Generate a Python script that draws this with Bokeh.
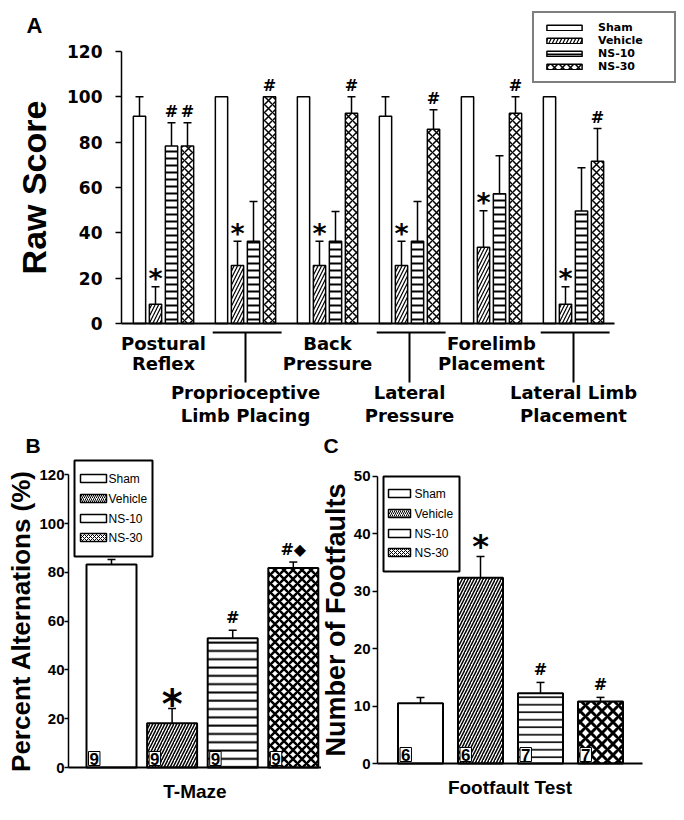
import numpy as np
from bokeh.plotting import figure
from bokeh.layouts import column, row
from bokeh.models import (ColumnDataSource, Whisker, TeeHead, Legend, LegendItem,
                          FixedTicker, Range1d)
from bokeh.core.properties import value
from bokeh.embed import file_html
from bokeh.resources import INLINE

# ---------------------------------------------------------------- data
groups = ["Sham", "Vehicle", "NS-10", "NS-30"]

a_tests = ["Postural\nReflex", "Proprioceptive\nLimb Placing", "Back\nPressure",
           "Lateral\nPressure", "Forelimb\nPlacement", "Lateral Limb\nPlacement"]
a_sham = [91.4, 100, 100, 91.4, 100, 100]
a_sham_err = [8.6, 0, 0, 8.6, 0, 0]
a_vehicle = [8.5, 25.6, 25.6, 25.6, 33.6, 8.5]
a_vehicle_err = [7.7, 10.7, 10.7, 10.7, 16.1, 7.7]
a_ns10 = [78.3, 36.3, 36.3, 36.3, 57.2, 49.6]
a_ns10_err = [10.3, 17.5, 13.1, 17.5, 16.8, 19.1]
a_ns30 = [78.3, 100, 92.8, 85.7, 92.8, 71.6]
a_ns30_err = [10.3, 0, 7.2, 8.6, 7.2, 14.4]
a_sham_sig = ["", "", "", "", "", ""]
a_vehicle_sig = ["*", "*", "*", "*", "*", "*"]
a_ns10_sig = ["#", "", "", "", "", ""]
a_ns30_sig = ["#", "#", "#", "#", "#", "#"]
a_ticks = [0, 20, 40, 60, 80, 100, 120]

b_test = "T-Maze"
b_values = [83.2, 18.1, 53.0, 81.8]
b_err = [2.0, 6.1, 3.2, 2.4]
b_n = ["9", "9", "9", "9"]
b_sig = ["", "*", "#", "#\u25c6"]
b_ticks = [0, 20, 40, 60, 80, 100, 120]

c_test = "Footfault Test"
c_values = [10.5, 32.3, 12.2, 10.8]
c_err = [1.0, 3.7, 1.9, 0.7]
c_n = ["6", "6", "7", "7"]
c_sig = ["", "*", "#", "#"]
c_ticks = [0, 10, 20, 30, 40, 50]

# ---------------------------------------------------------------- styles
SANS = "Liberation Sans"
WIDE = "DejaVu Sans"

A_HATCH = [dict(),
           dict(hatch_pattern="/", hatch_scale=7, hatch_weight=1.2),
           dict(hatch_pattern="-", hatch_scale=7, hatch_weight=2),
           dict(hatch_pattern="x", hatch_scale=8, hatch_weight=1.5)]
B_HATCH = [dict(),
           dict(hatch_pattern="/", hatch_scale=6, hatch_weight=1.5),
           dict(hatch_pattern="-", hatch_scale=8.3, hatch_weight=2),
           dict(hatch_pattern="x", hatch_scale=9, hatch_weight=2.5)]
C_HATCH = [dict(),
           dict(hatch_pattern="/", hatch_scale=6, hatch_weight=1.5),
           dict(hatch_pattern="-", hatch_scale=7.5, hatch_weight=1.6),
           dict(hatch_pattern="x", hatch_scale=11, hatch_weight=3)]
KEY_HATCH = [dict(),
             dict(hatch_pattern="/", hatch_scale=4, hatch_weight=1),
             dict(),
             dict(hatch_pattern="x", hatch_scale=4, hatch_weight=1)]


class Geo:
    """Maps page pixels to data units for a figure whose frame fills its canvas."""
    def __init__(self, left, top, w, h, x0px, xpitch, y0px, ppu):
        self.left, self.top, self.w, self.h = left, top, w, h
        self.x0px, self.xpitch, self.y0px, self.ppu = x0px, xpitch, y0px, ppu

    def x(self, px):
        return (px - self.x0px) / self.xpitch

    def y(self, py):
        return (self.y0px - py) / self.ppu

    def xr(self):
        return (self.x(self.left), self.x(self.left + self.w))

    def yr(self):
        return (self.y(self.top + self.h), self.y(self.top))


def base_fig(g, xaxis=True):
    p = figure(width=g.w, height=g.h, x_range=Range1d(*g.xr()), y_range=Range1d(*g.yr()),
               output_backend="svg", toolbar_location=None,
               x_axis_location="below" if xaxis else None,
               min_border_left=0, min_border_right=0, min_border_top=0,
               min_border_bottom=0)
    p.grid.visible = False
    p.outline_line_color = None
    p.background_fill_color = "white"
    p.border_fill_color = "white"
    return p


def style_yaxis(ax, loc, ticks, font, size, tick_out, standoff, label, lsize, lstandoff):
    ax.fixed_location = loc
    ax.bounds = (ticks[0], ticks[-1])
    ax.ticker = FixedTicker(ticks=ticks)
    ax.axis_line_width = 1.5
    ax.major_tick_in = 0
    ax.major_tick_out = tick_out
    ax.major_tick_line_width = 1.5
    ax.minor_tick_out = 0
    ax.minor_tick_in = 0
    ax.major_label_text_font = font
    ax.major_label_text_font_style = "bold"
    ax.major_label_text_font_size = size
    ax.major_label_text_color = "black"
    ax.major_label_standoff = standoff
    ax.axis_label = label
    ax.axis_label_text_font = SANS
    ax.axis_label_text_font_style = "bold"
    ax.axis_label_text_font_size = lsize
    ax.axis_label_text_color = "black"
    ax.axis_label_standoff = lstandoff


def letter(p, g, text, px, py_mid, size):
    p.text(x=[g.x(px)], y=[g.y(py_mid)], text=[text], text_font=value(SANS),
           text_font_style="bold", text_font_size=size, text_align="left",
           text_baseline="middle")


A_BOTTOM = 430

# ================================================================ panel A
ga = Geo(0, 0, 676, A_BOTTOM, 163, 82.0, 323, 272 / 120.0)
pa = base_fig(ga, xaxis=False)
a_axis_x = ga.x(121)
style_yaxis(pa.yaxis[0], a_axis_x, a_ticks, WIDE, "17px", 6, 13, "Raw Score", "34px", 11)

n_tests = len(a_tests)
xg = np.arange(n_tests)
a_series = [(a_sham, a_sham_err, a_sham_sig), (a_vehicle, a_vehicle_err, a_vehicle_sig),
            (a_ns10, a_ns10_err, a_ns10_sig), (a_ns30, a_ns30_err, a_ns30_sig)]
bar_pitch = 16 / ga.xpitch
bar_w = 12.3 / ga.xpitch
a_items = []
for k, (vals, errs, sig) in enumerate(a_series):
    x = xg + (k - 1.5) * bar_pitch
    top = np.array(vals, dtype=float)
    up = top + np.array(errs, dtype=float)
    src = ColumnDataSource(dict(x=x, top=top, up=up, sig=sig))
    r = pa.vbar(x="x", top="top", width=bar_w, source=src, fill_color="white",
                line_color="black", line_width=1.5, hatch_color="black", **A_HATCH[k])
    a_items.append(LegendItem(label=groups[k], renderers=[r]))
    pa.add_layout(Whisker(source=src, base="x", lower="top", upper="up",
                          line_width=1.5, lower_head=None,
                          upper_head=TeeHead(size=8, line_width=1.5)))
    star = [s if s.startswith("*") else "" for s in sig]
    hsh = [s if s.startswith("#") else "" for s in sig]
    pa.text(x=x, y=up, text=star, text_font=value(WIDE), text_font_style="bold",
            text_font_size="27px", text_align="center", text_baseline="middle",
            y_offset=-8)
    pa.text(x=x, y=up, text=hsh, text_font=value(WIDE), text_font_style="bold",
            text_font_size="16px", text_align="center", text_baseline="middle",
            y_offset=-11)

# baseline (x axis line)
pa.segment(x0=[a_axis_x], y0=[0], x1=[n_tests - 0.5], y1=[0], line_color="black",
           line_width=2)

# staggered category labels and their leader brackets
lab_x, lab_y, lab_t = [], [], []
for i, t in enumerate(a_tests):
    rows_py = (343, 363) if i % 2 == 0 else (392, 415)
    for j, line in enumerate(t.split("\n")):
        lab_x.append(i)
        lab_y.append(ga.y(rows_py[j]))
        lab_t.append(line)
pa.text(x=lab_x, y=lab_y, text=lab_t, text_font=value(WIDE), text_font_style="bold",
        text_font_size="18px", text_align="center", text_baseline="middle")
odd = xg[1::2]
pa.segment(x0=odd - 0.4, y0=ga.y(332), x1=odd + 0.44, y1=ga.y(332),
           line_color="black", line_width=2)
pa.segment(x0=odd, y0=ga.y(332), x1=odd, y1=ga.y(382),
           line_color="black", line_width=2)

pa.add_layout(Legend(items=a_items, location=(532, A_BOTTOM - 83), orientation="vertical",
                     padding=8, spacing=0, margin=0, glyph_width=44, glyph_height=7,
                     label_height=13, label_width=68, label_standoff=12,
                     label_text_font=WIDE, label_text_font_style="bold",
                     label_text_font_size="11px", label_text_color="black",
                     border_line_color="black", border_line_width=2,
                     background_fill_alpha=1.0))
letter(pa, ga, "A", 26, 25, "22px")


# ================================================================ panels B, C
def key_box(p, g, box, rows_py, patch_x, patch_w, text_x):
    x0, y0, x1, y1 = box
    p.rect(x=[g.x((x0 + x1) / 2)], y=[g.y((y0 + y1) / 2)], width=x1 - x0,
           height=y1 - y0, width_units="screen", height_units="screen",
           fill_color="white", line_color="black", line_width=2)
    for k, py in enumerate(rows_py):
        p.rect(x=[g.x(patch_x + patch_w / 2)], y=[g.y(py)], width=patch_w, height=8,
               width_units="screen", height_units="screen", fill_color="white",
               line_color="black", line_width=1.5, hatch_color="black", **KEY_HATCH[k])
    p.text(x=[g.x(text_x)] * len(rows_py), y=[g.y(py) for py in rows_py], text=groups,
           text_font=value(SANS), text_font_size="12px", text_color="black",
           text_align="left", text_baseline="middle")


def small_panel(g, axis_px, axis_end_px, vals, errs, ns, sig, ticks, hatch, bw,
                ylabel, ysize, ystand, tick_out, tick_stand, xlabel, key, let,
                star_size, star_off):
    p = base_fig(g)
    ax_x = g.x(axis_px)
    style_yaxis(p.yaxis[0], ax_x, ticks, SANS, "15px", tick_out, tick_stand, ylabel,
                ysize, ystand)
    ax = p.xaxis[0]
    ax.fixed_location = 0
    ax.bounds = (ax_x, g.x(axis_end_px))
    ax.ticker = FixedTicker(ticks=[])
    ax.axis_line_width = 2
    ax.major_tick_out = 0
    ax.major_tick_in = 0
    ax.minor_tick_out = 0
    ax.major_label_standoff = 0
    ax.axis_label = xlabel
    ax.axis_label_text_font = SANS
    ax.axis_label_text_font_style = "bold"
    ax.axis_label_text_font_size = "19px"
    ax.axis_label_text_color = "black"
    ax.axis_label_standoff = 13

    for k in range(len(vals)):
        src = ColumnDataSource(dict(x=[k], top=[vals[k]], up=[vals[k] + errs[k]],
                                    n=[ns[k]], sig=[sig[k]], left=[k - bw / 2]))
        p.vbar(x="x", top="top", width=bw, source=src, fill_color="white",
               line_color="black", line_width=2, hatch_color="black", **hatch[k])
        p.add_layout(Whisker(source=src, base="x", lower="top", upper="up",
                             line_width=1.5, lower_head=None,
                             upper_head=TeeHead(size=8, line_width=1.5)))
        p.text(x="left", y=0, text="n", source=src, text_font=value(SANS),
               text_font_style="bold", text_font_size="17px", text_align="left",
               text_baseline="bottom", x_offset=2, y_offset=-2,
               background_fill_color="white", border_line_color="black",
               border_line_width=1, padding=1)
        s = sig[k]
        if s.startswith("*"):
            p.text(x="x", y="up", text="sig", source=src, text_font=value(WIDE),
                   text_font_style="bold", text_font_size=star_size, text_align="center",
                   text_baseline="middle", y_offset=star_off)
        elif s:
            p.text(x="x", y="up", text="sig", source=src, text_font=value(WIDE),
                   text_font_style="bold", text_font_size="16px", text_align="center",
                   text_baseline="middle", y_offset=-13)
    key_box(p, g, *key)
    letter(p, g, let[0], let[1], let[2], "21px")
    return p


SPLIT = 321   # page x where panel C's canvas starts
BOTTOM = 812

gb = Geo(0, A_BOTTOM, SPLIT, BOTTOM - A_BOTTOM, 111, 60.6, 767, 2.44)
pb = small_panel(gb, 68, SPLIT, b_values, b_err, b_n, b_sig, b_ticks, B_HATCH, 50 / 60.6,
                 "Percent Alternations (%)", "26px", 0, 4, 0, b_test,
                 ((74, 460, 152, 556), (478, 498, 518, 537), 80, 26, 108),
                 ("B", 25, 445), "40px", -4)

gc = Geo(SPLIT, A_BOTTOM, 676 - SPLIT, BOTTOM - A_BOTTOM, 420, 60.0, 763, 5.75)
pc = small_panel(gc, 377, 642, c_values, c_err, c_n, c_sig, c_ticks, C_HATCH, 45 / 60.0,
                 "Number of Footfaults", "27px", 0, 5, 2, c_test,
                 ((383, 476, 459, 571), (493, 513, 533, 552), 388, 22, 414),
                 ("C", 323, 445), "32px", -11)

layout = column(pa, row(pb, pc))
open("out.html", "w").write(file_html(layout, INLINE))
